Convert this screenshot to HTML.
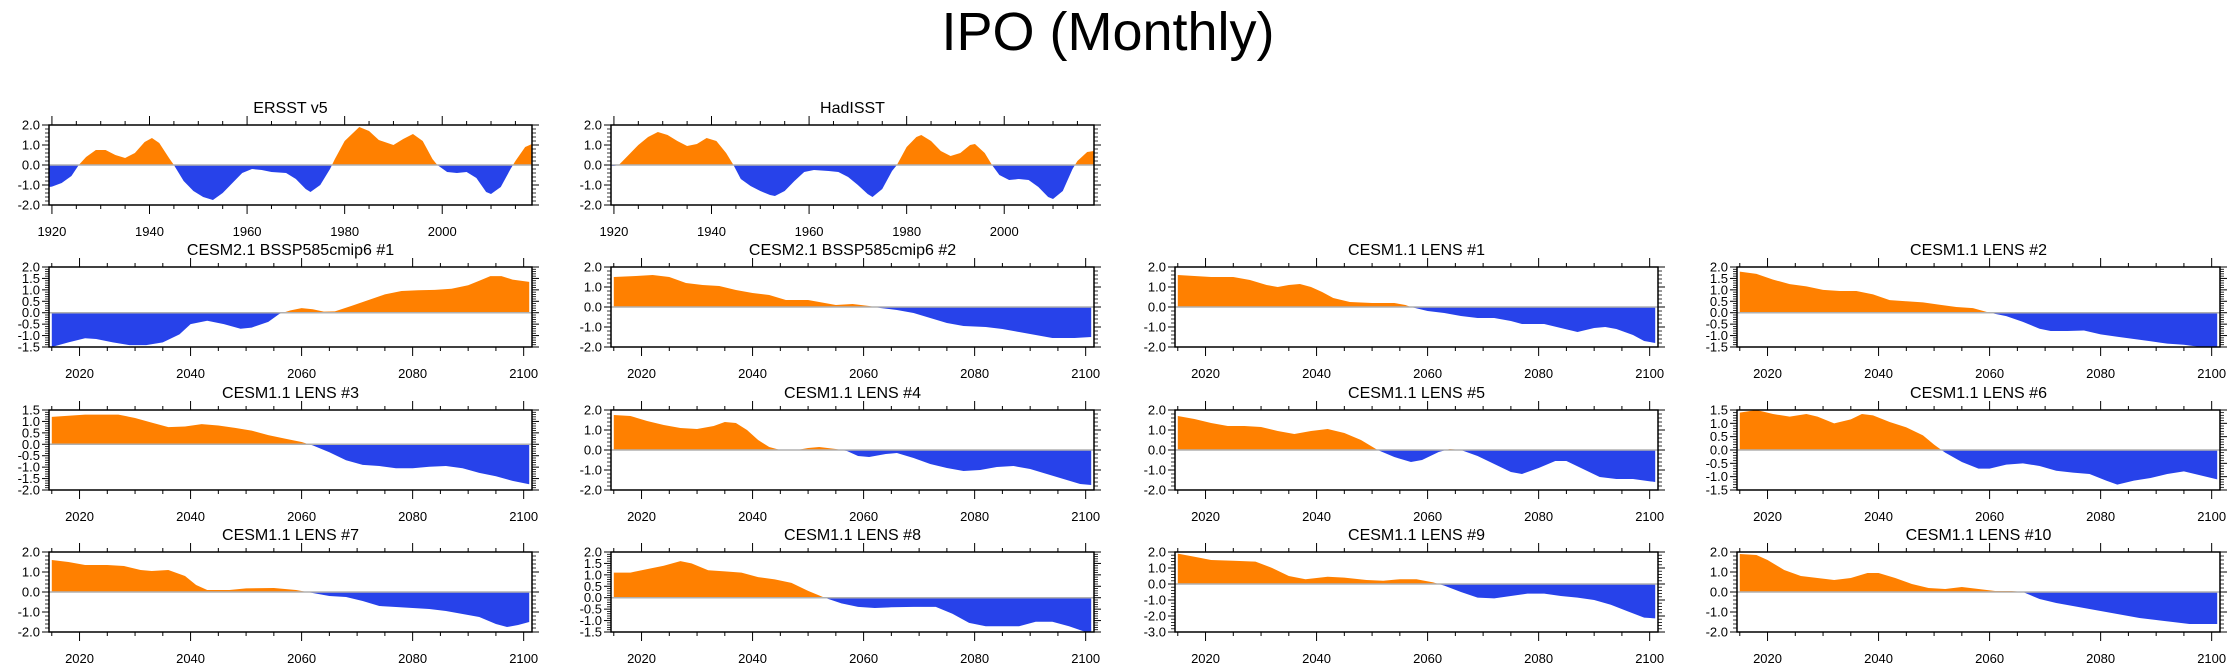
<!DOCTYPE html>
<html><head><meta charset="utf-8">
<style>
html,body{margin:0;padding:0;background:#fff;}
svg{display:block;font-family:"Liberation Sans",Arial,sans-serif;}
</style></head>
<body>
<svg id="chart" width="2238" height="670" viewBox="0 0 2238 670" xmlns="http://www.w3.org/2000/svg">
<text x="1108" y="50" font-size="54" text-anchor="middle">IPO (Monthly)</text>
</svg>
<script>
const ersstYears=[1919.4,1920,1922,1924,1925.5,1927,1929,1931,1933,1935,1937,1939,1940.5,1942,1944,1945,1947,1949,1951,1953,1955,1957,1959,1961,1963,1965,1968,1970,1972,1973,1975,1977,1978,1980,1983,1985,1987,1990,1992,1994,1996,1998,1999,2001,2003,2005,2007,2009,2010,2012,2014,2015,2017,2018.4];
const ersstVals=[-1.1,-1.08,-0.9,-0.55,0,0.4,0.75,0.75,0.5,0.35,0.6,1.15,1.35,1.1,0.35,0,-0.8,-1.3,-1.6,-1.75,-1.4,-0.9,-0.4,-0.2,-0.25,-0.35,-0.4,-0.7,-1.2,-1.35,-1.0,-0.2,0.3,1.2,1.9,1.7,1.25,1.0,1.3,1.55,1.2,0.3,0,-0.35,-0.4,-0.35,-0.65,-1.35,-1.45,-1.1,-0.2,0.2,0.9,1.05];
const hadYears=[1919.4,1920,1921,1923,1925,1927,1929,1931,1933,1935,1937,1939,1941,1943,1944.5,1946,1948,1950,1952,1953,1955,1957,1959,1961,1964,1966,1968,1970,1972,1973,1975,1977,1978,1980,1982,1983,1985,1987,1989,1991,1993,1994,1996,1997.5,1999,2001,2003,2005,2007,2009,2010,2012,2014,2015,2017,2018.4];
const hadVals=[-0.05,-0.05,0,0.5,1.0,1.4,1.65,1.5,1.2,0.95,1.05,1.35,1.2,0.6,0,-0.7,-1.05,-1.3,-1.5,-1.55,-1.3,-0.8,-0.35,-0.25,-0.3,-0.35,-0.6,-1.0,-1.45,-1.6,-1.2,-0.3,0,0.9,1.4,1.5,1.2,0.7,0.45,0.6,1.0,1.05,0.6,0,-0.5,-0.75,-0.7,-0.75,-1.1,-1.6,-1.7,-1.3,-0.2,0.2,0.65,0.7];

const c2aYears=[2015,2018,2021,2023,2026,2029,2032,2035,2038,2040,2043,2046,2049,2051,2054,2056,2058,2060,2062,2064,2066,2069,2072,2075,2078,2081,2084,2087,2090,2092,2094,2096,2098,2101];
const c2aVals=[-1.5,-1.3,-1.12,-1.15,-1.3,-1.42,-1.42,-1.3,-0.95,-0.5,-0.35,-0.5,-0.7,-0.65,-0.4,-0.05,0.1,0.2,0.15,0.05,0.06,0.3,0.55,0.8,0.95,0.98,1.0,1.05,1.2,1.4,1.6,1.6,1.45,1.35];
const c2bYears=[2015,2019,2022,2025,2028,2031,2034,2037,2040,2043,2046,2050,2053,2055,2058,2061,2063,2066,2069,2072,2075,2078,2082,2085,2088,2091,2094,2098,2101];
const c2bVals=[1.5,1.55,1.6,1.5,1.2,1.1,1.05,0.85,0.7,0.6,0.35,0.35,0.2,0.1,0.15,0.05,-0.05,-0.15,-0.3,-0.55,-0.8,-0.95,-1.0,-1.1,-1.25,-1.4,-1.55,-1.55,-1.5];
const l1Years=[2015,2018,2021,2025,2028,2031,2033,2035,2037,2039,2041,2043,2046,2050,2054,2056,2057,2060,2063,2066,2069,2072,2075,2077,2081,2084,2087,2090,2092,2094,2097,2099,2101];
const l1Vals=[1.6,1.55,1.5,1.5,1.35,1.1,1.0,1.1,1.15,1.0,0.75,0.45,0.25,0.2,0.2,0.1,0,-0.2,-0.3,-0.45,-0.55,-0.55,-0.7,-0.85,-0.85,-1.05,-1.25,-1.05,-1.0,-1.1,-1.4,-1.7,-1.8];
const l2Years=[2015,2018,2021,2024,2027,2030,2033,2036,2039,2042,2045,2048,2051,2054,2057,2060,2063,2066,2069,2071,2074,2077,2080,2083,2086,2089,2092,2095,2098,2101];
const l2Vals=[1.8,1.7,1.45,1.25,1.15,1.0,0.95,0.95,0.8,0.55,0.5,0.45,0.35,0.25,0.2,0.0,-0.15,-0.4,-0.7,-0.8,-0.8,-0.78,-0.95,-1.05,-1.15,-1.25,-1.35,-1.4,-1.5,-1.5];
const l3Years=[2015,2018,2021,2027,2030,2033,2036,2039,2042,2045,2048,2051,2054,2057,2060,2062,2065,2068,2071,2074,2077,2080,2083,2086,2089,2092,2095,2098,2101];
const l3Vals=[1.2,1.25,1.3,1.3,1.15,0.95,0.75,0.78,0.88,0.82,0.72,0.6,0.4,0.25,0.1,-0.05,-0.35,-0.7,-0.9,-0.95,-1.05,-1.05,-0.98,-0.95,-1.05,-1.25,-1.4,-1.6,-1.75];
const l4Years=[2015,2018,2021,2024,2027,2030,2033,2035,2037,2039,2041,2043,2045,2048,2050,2052,2055,2057,2059,2061,2064,2066,2069,2072,2075,2078,2081,2084,2087,2090,2093,2096,2099,2101];
const l4Vals=[1.75,1.7,1.45,1.25,1.1,1.05,1.2,1.4,1.35,1.0,0.5,0.15,0.0,0.0,0.1,0.15,0.05,-0.05,-0.3,-0.35,-0.2,-0.15,-0.4,-0.7,-0.9,-1.05,-1.0,-0.85,-0.8,-0.95,-1.2,-1.45,-1.7,-1.75];
const l5Years=[2015,2018,2021,2024,2027,2030,2033,2036,2039,2042,2045,2048,2051,2054,2057,2059,2062,2064,2066,2069,2072,2075,2077,2080,2083,2085,2088,2091,2094,2097,2101];
const l5Vals=[1.7,1.55,1.35,1.2,1.2,1.15,0.95,0.8,0.95,1.05,0.85,0.5,0.0,-0.35,-0.6,-0.5,-0.1,0.05,0.0,-0.3,-0.7,-1.1,-1.2,-0.9,-0.55,-0.55,-0.95,-1.35,-1.45,-1.45,-1.6];
const l6Years=[2015,2018,2021,2024,2027,2029,2032,2035,2037,2039,2042,2045,2048,2050,2052,2055,2058,2060,2063,2066,2069,2072,2075,2078,2081,2083,2086,2089,2092,2095,2098,2101];
const l6Vals=[1.4,1.5,1.35,1.25,1.35,1.25,1.0,1.15,1.35,1.3,1.05,0.85,0.55,0.2,-0.1,-0.45,-0.7,-0.7,-0.55,-0.5,-0.6,-0.78,-0.85,-0.9,-1.15,-1.3,-1.15,-1.05,-0.9,-0.8,-0.95,-1.1];
const l7Years=[2015,2018,2021,2025,2028,2031,2033,2036,2039,2041,2043,2047,2050,2055,2059,2062,2065,2068,2071,2074,2077,2080,2083,2086,2089,2092,2095,2097,2099,2101];
const l7Vals=[1.6,1.5,1.35,1.35,1.3,1.1,1.05,1.1,0.8,0.35,0.1,0.1,0.18,0.2,0.1,-0.05,-0.2,-0.25,-0.45,-0.7,-0.75,-0.8,-0.85,-0.95,-1.1,-1.25,-1.6,-1.75,-1.65,-1.5];
const l8Years=[2015,2018,2021,2024,2027,2029,2032,2035,2038,2041,2044,2047,2050,2053,2056,2059,2062,2065,2069,2073,2076,2079,2082,2085,2088,2091,2094,2097,2100,2101];
const l8Vals=[1.1,1.1,1.25,1.4,1.6,1.5,1.2,1.15,1.1,0.9,0.8,0.65,0.3,0.0,-0.25,-0.4,-0.45,-0.42,-0.4,-0.4,-0.7,-1.1,-1.25,-1.25,-1.25,-1.05,-1.05,-1.25,-1.5,-1.5];
const l9Years=[2015,2018,2021,2025,2029,2032,2035,2038,2042,2045,2049,2052,2055,2058,2061,2063,2066,2069,2072,2075,2078,2081,2084,2087,2090,2093,2096,2099,2101];
const l9Vals=[1.9,1.7,1.5,1.45,1.4,1.0,0.5,0.3,0.45,0.4,0.25,0.2,0.3,0.3,0.1,-0.1,-0.5,-0.85,-0.9,-0.75,-0.6,-0.6,-0.75,-0.85,-1.0,-1.3,-1.7,-2.1,-2.15];
const l10Years=[2015,2018,2020,2023,2026,2029,2032,2035,2038,2040,2043,2046,2049,2052,2055,2058,2061,2064,2066,2069,2072,2075,2078,2081,2084,2087,2090,2093,2096,2101];
const l10Vals=[1.9,1.85,1.6,1.1,0.8,0.7,0.6,0.7,0.95,0.95,0.7,0.4,0.2,0.15,0.25,0.15,0.05,0.05,0.0,-0.35,-0.55,-0.7,-0.85,-1.0,-1.15,-1.3,-1.4,-1.5,-1.6,-1.6];

const histXTicks=[1920,1940,1960,1980,2000];
const futXTicks=[2020,2040,2060,2080,2100];

const colX=[49,611,1175,1737];
const rowY=[125,267,410,552];
const PW=483, PH=80;

const panels=[
 {name:'ersst-v5',title:'ERSST v5',c:0,r:0,xs:ersstYears,ys:ersstVals,x0:1919.4,x1:2018.4,y0:-2,y1:2,ys1:1,xt:histXTicks},
 {name:'hadisst',title:'HadISST',c:1,r:0,xs:hadYears,ys:hadVals,x0:1919.4,x1:2018.4,y0:-2,y1:2,ys1:1,xt:histXTicks},
 {name:'cesm2-1',title:'CESM2.1 BSSP585cmip6 #1',c:0,r:1,xs:c2aYears,ys:c2aVals,x0:2014.5,x1:2101.5,y0:-1.5,y1:2,ys1:0.5,xt:futXTicks},
 {name:'cesm2-2',title:'CESM2.1 BSSP585cmip6 #2',c:1,r:1,xs:c2bYears,ys:c2bVals,x0:2014.5,x1:2101.5,y0:-2,y1:2,ys1:1,xt:futXTicks},
 {name:'lens-1',title:'CESM1.1 LENS #1',c:2,r:1,xs:l1Years,ys:l1Vals,x0:2014.5,x1:2101.5,y0:-2,y1:2,ys1:1,xt:futXTicks},
 {name:'lens-2',title:'CESM1.1 LENS #2',c:3,r:1,xs:l2Years,ys:l2Vals,x0:2014.5,x1:2101.5,y0:-1.5,y1:2,ys1:0.5,xt:futXTicks},
 {name:'lens-3',title:'CESM1.1 LENS #3',c:0,r:2,xs:l3Years,ys:l3Vals,x0:2014.5,x1:2101.5,y0:-2,y1:1.5,ys1:0.5,xt:futXTicks},
 {name:'lens-4',title:'CESM1.1 LENS #4',c:1,r:2,xs:l4Years,ys:l4Vals,x0:2014.5,x1:2101.5,y0:-2,y1:2,ys1:1,xt:futXTicks},
 {name:'lens-5',title:'CESM1.1 LENS #5',c:2,r:2,xs:l5Years,ys:l5Vals,x0:2014.5,x1:2101.5,y0:-2,y1:2,ys1:1,xt:futXTicks},
 {name:'lens-6',title:'CESM1.1 LENS #6',c:3,r:2,xs:l6Years,ys:l6Vals,x0:2014.5,x1:2101.5,y0:-1.5,y1:1.5,ys1:0.5,xt:futXTicks},
 {name:'lens-7',title:'CESM1.1 LENS #7',c:0,r:3,xs:l7Years,ys:l7Vals,x0:2014.5,x1:2101.5,y0:-2,y1:2,ys1:1,xt:futXTicks},
 {name:'lens-8',title:'CESM1.1 LENS #8',c:1,r:3,xs:l8Years,ys:l8Vals,x0:2014.5,x1:2101.5,y0:-1.5,y1:2,ys1:0.5,xt:futXTicks},
 {name:'lens-9',title:'CESM1.1 LENS #9',c:2,r:3,xs:l9Years,ys:l9Vals,x0:2014.5,x1:2101.5,y0:-3,y1:2,ys1:1,xt:futXTicks},
 {name:'lens-10',title:'CESM1.1 LENS #10',c:3,r:3,xs:l10Years,ys:l10Vals,x0:2014.5,x1:2101.5,y0:-2,y1:2,ys1:1,xt:futXTicks}
];

const NS='http://www.w3.org/2000/svg';
const svg=document.getElementById('chart');
function mk(tag,attrs,parent){const e=document.createElementNS(NS,tag);for(const k in attrs)e.setAttribute(k,attrs[k]);(parent||svg).appendChild(e);return e;}

panels.forEach((p,pi)=>{
  const L=colX[p.c], T=rowY[p.r], R=L+PW, B=T+PH;
  const g=mk('g',{});
  
  
  const sx=v=>L+(v-p.x0)/(p.x1-p.x0)*PW;
  const sy=v=>B-(v-p.y0)/(p.y1-p.y0)*PH;
  const z=sy(0);
  // clip paths
  const defs=mk('defs',{},g);
  const ca=mk('clipPath',{id:'ca'+pi},defs); mk('rect',{x:L,y:T,width:PW,height:z-T},ca);
  const cb=mk('clipPath',{id:'cb'+pi},defs); mk('rect',{x:L,y:z,width:PW,height:B-z},cb);
  let d='M'+sx(p.xs[0]).toFixed(2)+','+z.toFixed(2);
  for(let i=0;i<p.xs.length;i++){d+=' L'+sx(p.xs[i]).toFixed(2)+','+sy(p.ys[i]).toFixed(2);}
  d+=' L'+sx(p.xs[p.xs.length-1]).toFixed(2)+','+z.toFixed(2)+' Z';
  const pos=mk('path',{d:d,fill:'#ff8000','clip-path':'url(#ca'+pi+')'},g);
  
  
  const neg=mk('path',{d:d,fill:'#2742ea','clip-path':'url(#cb'+pi+')'},g);
  
  
  const zl=mk('line',{x1:L,x2:R,y1:z,y2:z,stroke:'#b0b0b0','stroke-width':1.5},g);
  
  
  // frame
  const fr=mk('rect',{x:L,y:T,width:PW,height:PH,fill:'none',stroke:'#000','stroke-width':1.5},g);
  
  
  // x ticks
  for(let yr=Math.ceil(p.x0/5)*5; yr<=p.x1; yr+=5){
    const x=sx(yr), maj=(yr%20===0), len=maj?9:4;
    mk('line',{x1:x,x2:x,y1:T,y2:T-len,stroke:'#000','stroke-width':1},g);
    mk('line',{x1:x,x2:x,y1:B,y2:B+len,stroke:'#000','stroke-width':1},g);
  }
  p.xt.forEach(yr=>{
    const t=mk('text',{x:sx(yr),y:B+31,'font-size':13,'text-anchor':'middle'},g);
    
    
    t.textContent=yr;
  });
  // y ticks
  const nMaj=Math.round((p.y1-p.y0)/p.ys1);
  for(let i=0;i<=nMaj;i++){
    const v=p.y0+i*p.ys1, y=sy(v);
    mk('line',{x1:L,x2:L-7,y1:y,y2:y,stroke:'#000','stroke-width':1},g);
    mk('line',{x1:R,x2:R+7,y1:y,y2:y,stroke:'#000','stroke-width':1},g);
    const t=mk('text',{x:L-9,y:y+4.5,'font-size':13,'text-anchor':'end'},g);
    
    
    t.textContent=v.toFixed(1);
    if(i<nMaj){for(let k=1;k<5;k++){const ym=sy(v+k*p.ys1/5);
      mk('line',{x1:L,x2:L-4,y1:ym,y2:ym,stroke:'#000','stroke-width':0.8},g);
      mk('line',{x1:R,x2:R+4,y1:ym,y2:ym,stroke:'#000','stroke-width':0.8},g);}}
  }
  const tt=mk('text',{x:L+PW/2,y:T-12,'font-size':16,'text-anchor':'middle'},g);
  
  
  tt.textContent=p.title;
});
</script>
</body></html>
